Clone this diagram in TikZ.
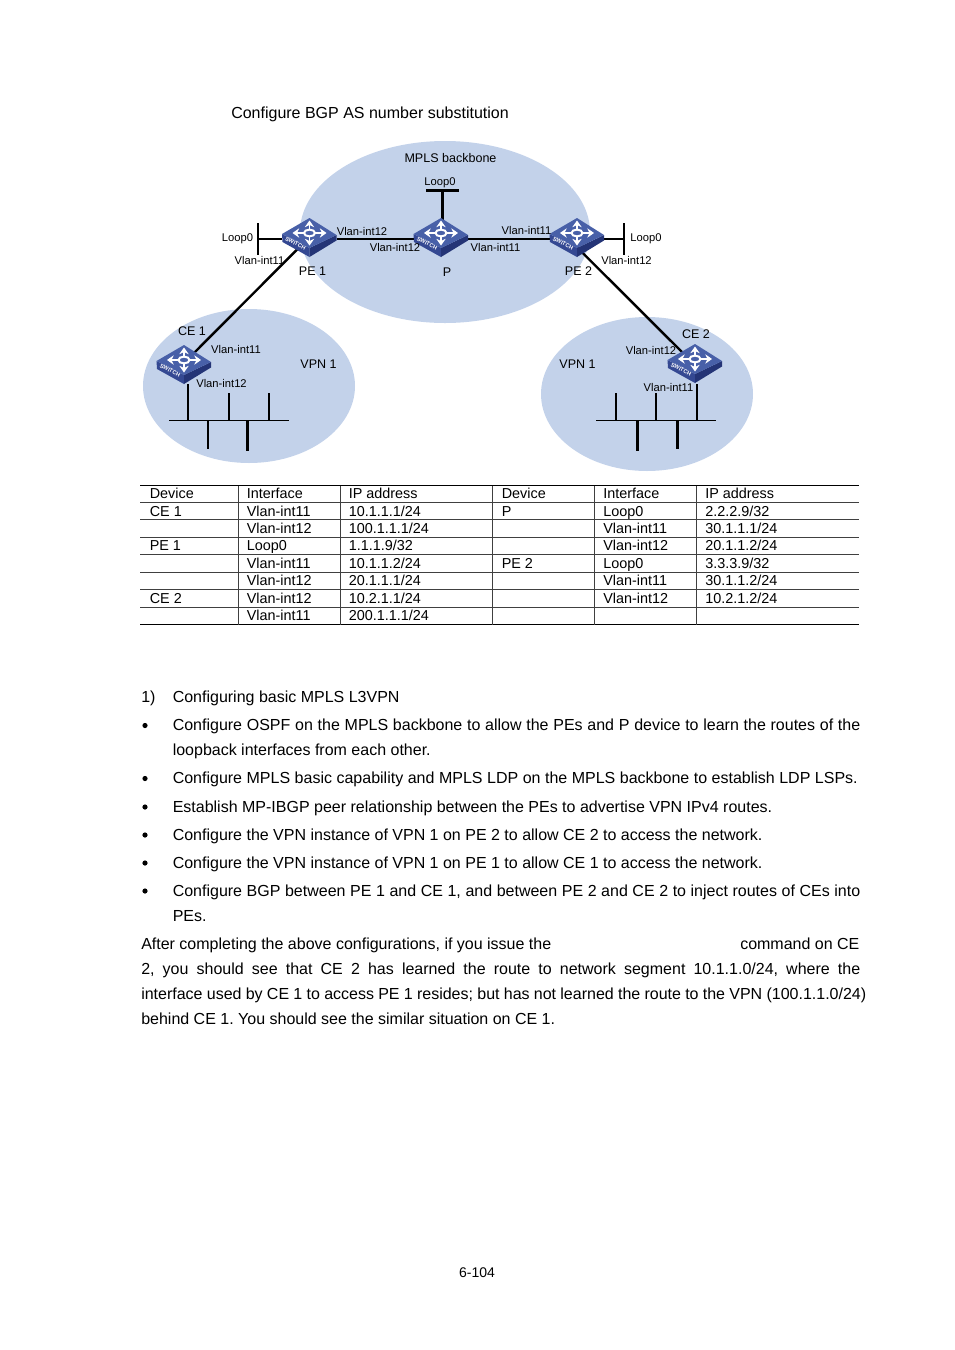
\documentclass[tikz,border=0pt]{standalone}
\usepackage{fontspec}
\setmainfont{Liberation Sans}
\usetikzlibrary{calc,arrows.meta}
\frenchspacing
\definecolor{cloudblue}{RGB}{195,210,234}
\definecolor{swtop}{RGB}{72,96,168}
\definecolor{swleft}{RGB}{52,72,146}
\definecolor{swright}{RGB}{36,52,118}
\tikzset{
  netline/.style={draw=black,line width=1.8pt},
  thinstub/.style={draw=black,line width=1.4pt},
  thickstub/.style={draw=black,line width=2.1pt},
  rowline/.style={draw=black!75,line width=0.4pt},
  edgeline/.style={draw=black,line width=0.7pt},
  swnode/.style={minimum width=54*0.75pt,minimum height=16*0.75pt,inner sep=0pt},
  portlabel/.style={font=\fontsize{8.4}{10}\selectfont,inner sep=0pt},
  devlabel/.style={font=\fontsize{9.4}{11}\selectfont,inner sep=0pt},
  celltext/.style={anchor=base west,font=\fontsize{10.8}{13}\selectfont,inner sep=0pt},
  bodytext/.style={anchor=base west,font=\fontsize{12}{14}\selectfont,inner sep=0pt},
}
\newcommand{\swicon}[1]{%
  \begin{scope}[shift={(#1)}]
    \fill[swleft] (-27.5,-5) -- (0,9) -- (0,18) -- (-27,3) -- cycle;
    \fill[swright] (0,9) -- (27,-4) -- (27,1.5) -- (0,18) -- cycle;
    \fill[swtop] (0,-21) -- (27,-4) -- (0,9) -- (-27.5,-5) -- cycle;
    \foreach \dx/\dy in {0/-12.5,0/12.5,-17/0,17/0}{%
      \draw[white,line width=1.4pt,-{Stealth[length=5pt,width=7pt]}] (0,-6) -- ++(\dx,\dy);}
    \draw[white,line width=1.5pt,fill=swtop] (0,-6) ellipse (5.5 and 3.4);
    \node[white,font=\fontsize{4.2}{5}\bfseries\selectfont,rotate=-27,inner sep=0pt] at (-14,4.4) {SWITCH};
  \end{scope}%
}
\newcommand{\tcell}[3]{\node[celltext] (cell-#1-#2) at ({\csname colx#1\endcsname},{\csname rowy#2\endcsname}) {#3};}
\def\colxa{149.5}\def\colxb{246.5}\def\colxc{348.5}\def\colxd{501.5}\def\colxe{603}\def\colxf{705}
\def\rowya{498.5}\def\rowyb{516}\def\rowyc{533}\def\rowyd{550.5}\def\rowye{568}\def\rowyf{585.5}\def\rowyg{603}\def\rowyh{620.5}
\newcommand{\bodyline}[4]{\node[bodytext] (#1) at (#2,#3) {#4};}
\newcommand{\fillline}[5]{\node[bodytext] (#1) at (#2,#3) {\makebox[\dimexpr #4pt*3/4\relax][s]{#5}};}

\begin{document}
\begin{tikzpicture}[x=0.75pt,y=-0.75pt]
  \useasboundingbox (0,0) rectangle (954,1350);
  \node[bodytext] (title) at (231,118) {Configure BGP AS number substitution};
  % clouds
  \fill[cloudblue] (445,232) ellipse (145 and 91);
  \fill[cloudblue] (249,386) ellipse (106 and 77);
  \fill[cloudblue] (647,394) ellipse (106 and 77);
  % devices
  \node[swnode] (pe1) at (309.5,239) {};
  \node[swnode] (prt) at (441,239) {};
  \node[swnode] (pe2) at (577,239) {};
  \node[swnode] (ce1) at (184,366) {};
  \node[swnode] (ce2) at (695,365) {};
  \coordinate (lpe1) at (258,239);
  \coordinate (lpe2) at (624,239);
  \coordinate (lprt) at (442.5,190.5);
  % links
  \draw[netline] (pe1) -- (prt);
  \draw[netline] (prt) -- (pe2);
  \draw[netline] (pe1) -- (lpe1);
  \draw[netline] (pe2) -- (lpe2);
  \draw[netline] (lprt) -- (442.5,222);
  \draw[netline] (lpe1) ++(0,-16) -- ++(0,32);
  \draw[netline] (lpe2) ++(0,-16) -- ++(0,32);
  \draw[netline] (lprt) ++(-16.5,0) -- ++(33,0);
  \draw[netline] ($(pe1)+(0,-2)$) -- ($(ce1)+(0,-3)$);
  \draw[netline] (pe2.south) -- (ce2);
  % lans
  \draw[thinstub] (169,420.5) -- (289,420.5);
  \draw[thinstub] (188,384) -- (188,420.5);
  \draw[thinstub] (229,393) -- (229,420.5);
  \draw[thinstub] (269,393) -- (269,420.5);
  \draw[thinstub] (208,420.5) -- (208,449);
  \draw[thickstub] (247.5,420.5) -- (247.5,451);
  \draw[thinstub] (596,420.5) -- (716,420.5);
  \draw[thinstub] (616,393) -- (616,420.5);
  \draw[thinstub] (656,393) -- (656,420.5);
  \draw[thinstub] (697,384) -- (697,420.5);
  \draw[thickstub] (637.5,420.5) -- (637.5,451);
  \draw[thickstub] (677.5,420.5) -- (677.5,449);
  \swicon{pe1}\swicon{prt}\swicon{pe2}\swicon{ce1}\swicon{ce2}
  % labels
  \node[devlabel] (mpls) at (450.5,158.5) {MPLS backbone};
  \node[devlabel] (tpe1) at (312.5,271) {PE 1};
  \node[devlabel] (tprt) at (447,272.5) {P};
  \node[devlabel] (tpe2) at (578.5,271.5) {PE 2};
  \node[devlabel] (tce1) at (192,331) {CE 1};
  \node[devlabel] (tce2) at (696,334) {CE 2};
  \node[devlabel] (tvpna) at (318.5,364) {VPN 1};
  \node[devlabel] (tvpnb) at (577.5,364) {VPN 1};
  \node[portlabel] (la) at (440,182.5) {Loop0};
  \node[portlabel] (lb) at (237.5,239) {Loop0};
  \node[portlabel] (lc) at (646,239) {Loop0};
  \node[portlabel] (pa) at (259.5,260.5) {Vlan-int11};
  \node[portlabel] (pb) at (362,231) {Vlan-int12};
  \node[portlabel] (pc) at (395,247.5) {Vlan-int12};
  \node[portlabel] (pd) at (495.5,247.5) {Vlan-int11};
  \node[portlabel] (pe) at (526.5,230.5) {Vlan-int11};
  \node[portlabel] (pf) at (626.5,260.5) {Vlan-int12};
  \node[portlabel] (pg) at (236,349.5) {Vlan-int11};
  \node[portlabel] (ph) at (221.5,383.5) {Vlan-int12};
  \node[portlabel] (pi) at (651,350.5) {Vlan-int12};
  \node[portlabel] (pj) at (668.5,387.5) {Vlan-int11};
  % table
  \draw[edgeline] (140,485.5) -- (859,485.5);
  \draw[edgeline] (140,624.5) -- (859,624.5);
  \foreach \ly in {502.5,519.5,537,554.5,572.5,589.5,607}{%
    \draw[rowline] (140,\ly) -- (859,\ly);}
  \foreach \lx in {238.5,340.5,492.5,594.5,696.5}{%
    \draw[rowline] (\lx,485.5) -- (\lx,624.5);}
  \tcell{a}{a}{Device}\tcell{b}{a}{Interface}\tcell{c}{a}{IP address}
  \tcell{d}{a}{Device}\tcell{e}{a}{Interface}\tcell{f}{a}{IP address}
  \tcell{a}{b}{CE 1}\tcell{b}{b}{Vlan-int11}\tcell{c}{b}{10.1.1.1/24}
  \tcell{d}{b}{P}\tcell{e}{b}{Loop0}\tcell{f}{b}{2.2.2.9/32}
  \tcell{b}{c}{Vlan-int12}\tcell{c}{c}{100.1.1.1/24}
  \tcell{e}{c}{Vlan-int11}\tcell{f}{c}{30.1.1.1/24}
  \tcell{a}{d}{PE 1}\tcell{b}{d}{Loop0}\tcell{c}{d}{1.1.1.9/32}
  \tcell{e}{d}{Vlan-int12}\tcell{f}{d}{20.1.1.2/24}
  \tcell{b}{e}{Vlan-int11}\tcell{c}{e}{10.1.1.2/24}
  \tcell{d}{e}{PE 2}\tcell{e}{e}{Loop0}\tcell{f}{e}{3.3.3.9/32}
  \tcell{b}{f}{Vlan-int12}\tcell{c}{f}{20.1.1.1/24}
  \tcell{e}{f}{Vlan-int11}\tcell{f}{f}{30.1.1.2/24}
  \tcell{a}{g}{CE 2}\tcell{b}{g}{Vlan-int12}\tcell{c}{g}{10.2.1.1/24}
  \tcell{e}{g}{Vlan-int12}\tcell{f}{g}{10.2.1.2/24}
  \tcell{b}{h}{Vlan-int11}\tcell{c}{h}{200.1.1.1/24}
  % text
  \bodyline{numa}{141}{702}{1)}
  \bodyline{numb}{172.5}{702}{Configuring basic MPLS L3VPN}
  \foreach \by in {725.5,778.5,807,835,863,891}{\fill (145,\by) circle (2.6);}
  \fillline{ba}{172.5}{730}{687.5}{Configure OSPF on the MPLS backbone to allow the PEs and P device to learn the routes of the}
  \bodyline{bb}{172.5}{755}{loopback interfaces from each other.}
  \fillline{bc}{172.5}{783}{685}{Configure MPLS basic capability and MPLS LDP on the MPLS backbone to establish LDP LSPs.}
  \bodyline{bd}{172.5}{812}{Establish MP-IBGP peer relationship between the PEs to advertise VPN IPv4 routes.}
  \bodyline{be}{172.5}{840}{Configure the VPN instance of VPN 1 on PE 2 to allow CE 2 to access the network.}
  \bodyline{bf}{172.5}{868}{Configure the VPN instance of VPN 1 on PE 1 to allow CE 1 to access the network.}
  \fillline{bg}{172.5}{896}{687.5}{Configure BGP between PE 1 and CE 1, and between PE 2 and CE 2 to inject routes of CEs into}
  \bodyline{bh}{172.5}{921}{PEs.}
  \bodyline{pa1}{141}{949}{After completing the above configurations, if you issue the}
  \bodyline{pa2}{740}{949}{command on CE}
  \fillline{pb1}{141}{974}{719}{2, you should see that CE 2 has learned the route to network segment 10.1.1.0/24, where the}
  \fillline{pc1}{141}{999}{725}{interface used by CE 1 to access PE 1 resides; but has not learned the route to the VPN (100.1.1.0/24)}
  \bodyline{pd1}{141}{1024}{behind CE 1. You should see the similar situation on CE 1.}
  \node[font=\fontsize{10.5}{12}\selectfont,inner sep=0pt] (pageno) at (477,1272.5) {6-104};
\end{tikzpicture}
\end{document}
